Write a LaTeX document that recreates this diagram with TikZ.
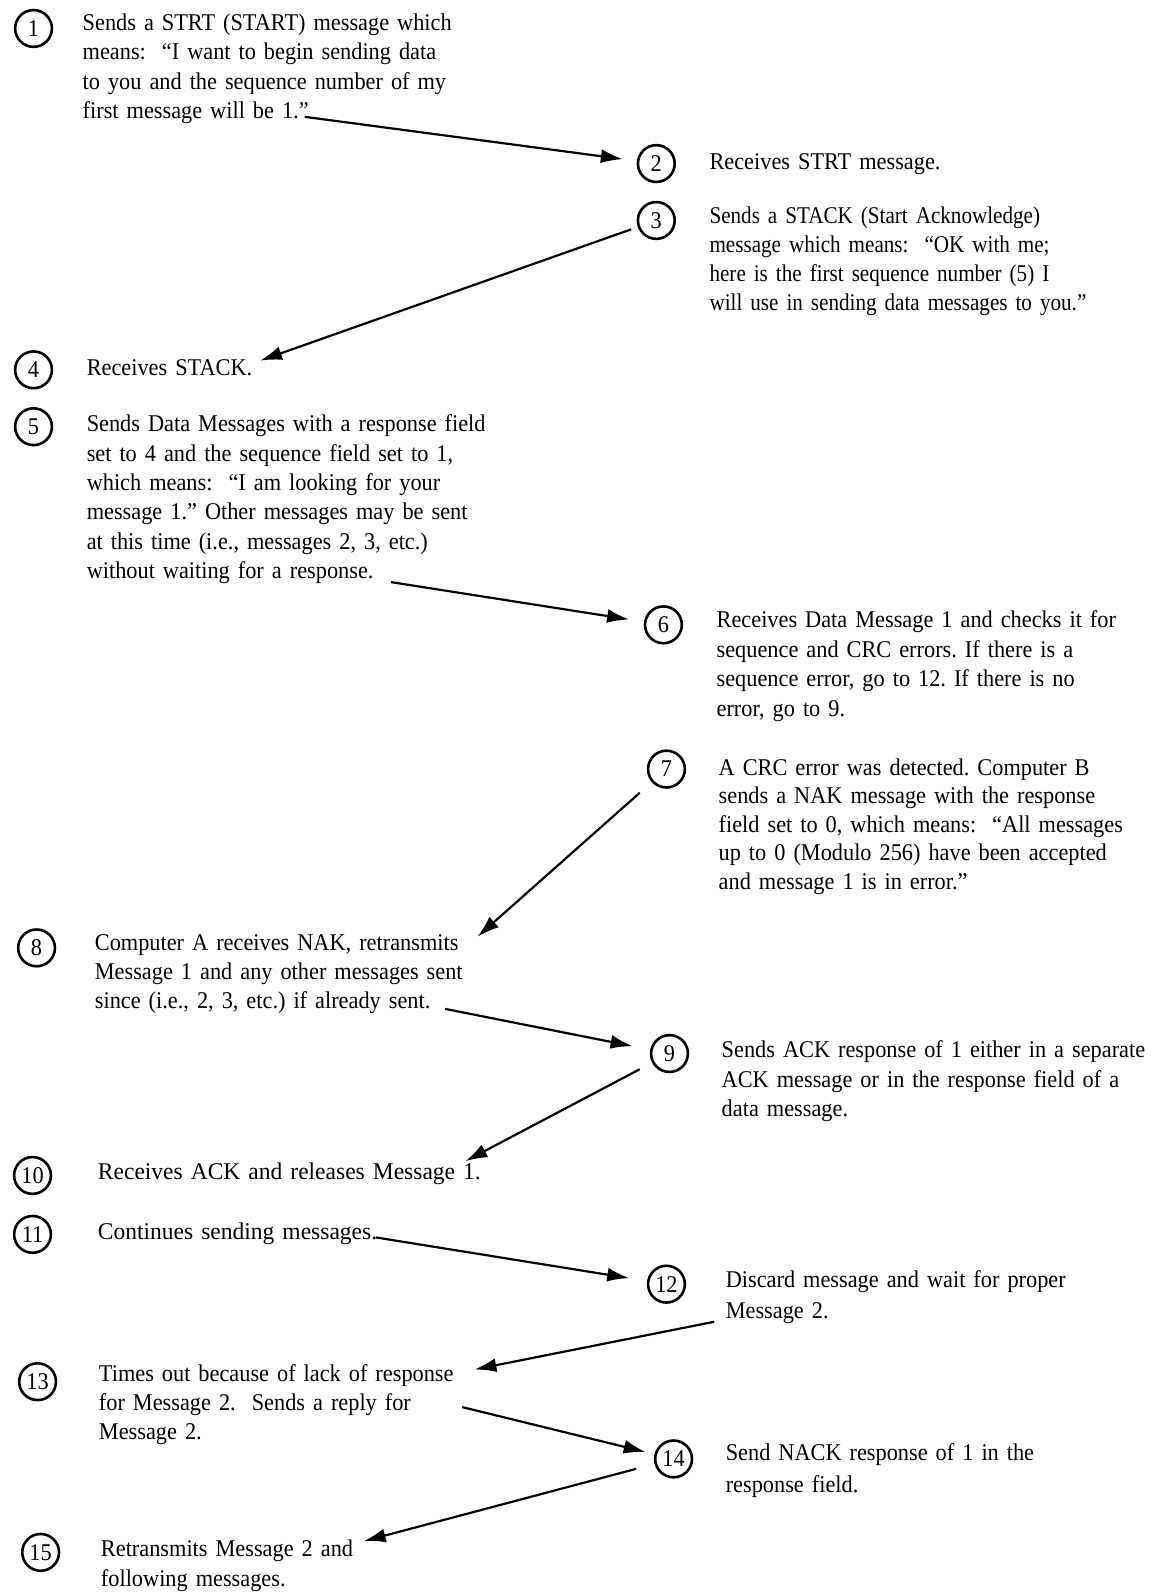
\documentclass[tikz,border=0pt]{standalone}
\usepackage{fontspec}
\setmainfont[FakeStretch=0.93]{Liberation Serif}
\newfontfamily\narrowserif[FakeStretch=0.88]{Liberation Serif}
\newfontfamily\wideserif[FakeStretch=0.98]{Liberation Serif}
\usepackage{tikz}
\usetikzlibrary{arrows.meta}
\frenchspacing

\begin{document}
\begin{tikzpicture}[x=0.508pt,y=-0.508pt,
	num_node/.style={circle,draw,line width=1.3pt,minimum size=18.4pt,inner sep=0pt,font=\fontsize{12}{14}\selectfont},
	step_text/.style={anchor=base west,inner sep=0pt,text width=250pt,align=left,font=\fontsize{12}{14.7}\selectfont},
	msg_arrow/.style={line width=1.1pt,-{Latex[length=11pt,width=7pt]}}]
	\fill[white] (0,0) rectangle (1133,1568);
	\useasboundingbox (0,0) rectangle (1133,1568);

	% computer A (left) and computer B (right)
	\node[num_node] (c1) at (33,28) {1};
	\node[step_text] (t1) at (81,30) {Sends a STRT (START) message which\\ means:\ \ “I want to begin sending data\\ to you and the sequence number of my\\ first message will be 1.”};
	\node[num_node] (c2) at (646,161) {2};
	\node[step_text] (t2) at (698,167) {Receives STRT message.};
	\node[num_node] (c3) at (646,217) {3};
	\node[step_text,font=\fontsize{12}{14.5}\narrowserif] (t3) at (698,220) {Sends a STACK (Start Acknowledge)\\ message which means:\ \ “OK with me;\\ here is the first sequence number (5) I\\ will use in sending data messages to you.”};
	\node[num_node] (c4) at (33,364) {4};
	\node[step_text] (t4) at (85,370) {Receives STACK.};
	\node[num_node] (c5) at (33,420) {5};
	\node[step_text] (t5) at (85,425) {Sends Data Messages with a response field\\ set to 4 and the sequence field set to 1,\\ which means:\ \ “I am looking for your\\ message 1.” Other messages may be sent\\ at this time (i.e., messages 2, 3, etc.)\\ without waiting for a response.};
	\node[num_node] (c6) at (653,615) {6};
	\node[step_text] (t6) at (705,618) {Receives Data Message 1 and checks it for\\ sequence and CRC errors. If there is a\\ sequence error, go to 12. If there is no\\ error, go to 9.};
	\node[num_node] (c7) at (656,757) {7};
	\node[step_text,font=\fontsize{12}{14.3}\selectfont] (t7) at (707,763) {A CRC error was detected. Computer B\\ sends a NAK message with the response\\ field set to 0, which means:\ \ “All messages\\ up to 0 (Modulo 256) have been accepted\\ and message 1 is in error.”};
	\node[num_node] (c8) at (36,933) {8};
	\node[step_text,font=\fontsize{12}{14.4}\selectfont] (t8) at (93,936) {Computer A receives NAK, retransmits\\ Message 1 and any other messages sent\\ since (i.e., 2, 3, etc.) if already sent.};
	\node[num_node] (c9) at (659,1037) {9};
	\node[step_text] (t9) at (710,1041) {Sends ACK response of 1 either in a separate\\ ACK message or in the response field of a\\ data message.};
	\node[num_node] (c10) at (32,1157) {10};
	\node[step_text,font=\fontsize{12}{14.7}\wideserif] (t10) at (96,1161) {Receives ACK and releases Message 1.};
	\node[num_node] (c11) at (32,1215) {11};
	\node[step_text,font=\fontsize{12}{14.7}\wideserif] (t11) at (96,1220) {Continues sending messages.};
	\node[num_node] (c12) at (656,1264) {12};
	\node[step_text,font=\fontsize{12}{15.7}\selectfont] (t12) at (714,1267) {Discard message and wait for proper\\ Message 2.};
	\node[num_node] (c13) at (37,1360) {13};
	\node[step_text,font=\fontsize{12}{14.4}\selectfont] (t13) at (97,1360) {Times out because of lack of response\\ for Message 2.\ \ Sends a reply for\\ Message 2.};
	\node[num_node] (c14) at (663,1436) {14};
	\node[step_text,font=\fontsize{12}{15.7}\selectfont] (t14) at (714,1438) {Send NACK response of 1 in the\\ response field.};
	\node[num_node] (c15) at (40,1528) {15};
	\node[step_text,font=\fontsize{12}{15.2}\selectfont] (t15) at (99,1532) {Retransmits Message 2 and\\ following messages.};

	% free ends of the message arrows
	\coordinate (s1) at (300,115);
	\coordinate (e2) at (256,355);
	\coordinate (s3) at (385,573);
	\coordinate (e4) at (470,922);
	\coordinate (s5) at (438,993);
	\coordinate (e6) at (458,1143);
	\coordinate (s7) at (370,1218);
	\coordinate (s8) at (703,1301);
	\coordinate (e8) at (467,1348);
	\coordinate (s9) at (455,1385);
	\coordinate (e10) at (358,1517);

	\draw[msg_arrow,shorten >=7pt] (s1) -- (c2);
	\draw[msg_arrow,shorten <=3.5pt] (c3) -- (e2);
	\draw[msg_arrow,shorten >=7.5pt] (s3) -- (c6);
	\draw[msg_arrow,shorten <=8pt] (c7) -- (e4);
	\draw[msg_arrow,shorten >=9pt] (s5) -- (c9);
	\draw[msg_arrow,shorten <=7pt] (c9) -- (e6);
	\draw[msg_arrow,shorten >=9pt] (s7) -- (c12);
	\draw[msg_arrow] (s8) -- (e8);
	\draw[msg_arrow,shorten >=4.5pt] (s9) -- (c14);
	\draw[msg_arrow,shorten <=9.5pt] (c14) -- (e10);
\end{tikzpicture}
\end{document}
